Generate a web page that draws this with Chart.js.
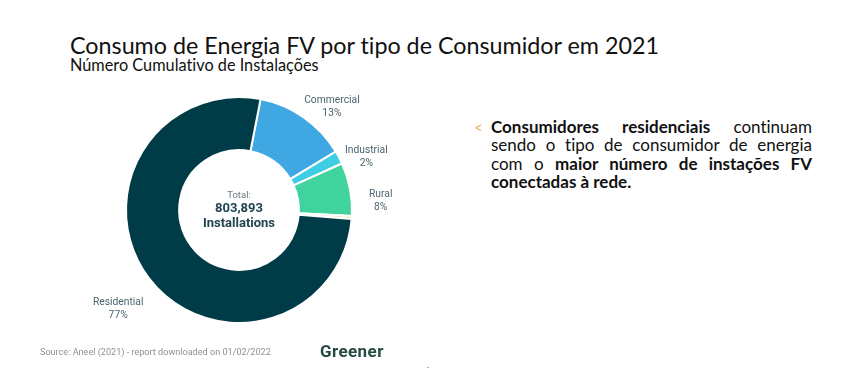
<!DOCTYPE html>
<html>
<head>
<meta charset="utf-8">
<script src="https://cdn.jsdelivr.net/npm/chart.js@4.4.1/dist/chart.umd.min.js"></script>
<style>
  html, body { margin: 0; padding: 0; background: #fff; }
  body { width: 846px; height: 370px; position: relative; overflow: hidden; font-family: Lato, "Open Sans", sans-serif; font-variant-ligatures: none; }
  #title { position: absolute; left: 70px; top: 31px; font-size: 23.3px; color: #111; white-space: nowrap; }
  #subtitle { position: absolute; left: 70px; top: 55px; font-size: 16.3px; color: #111; white-space: nowrap; }
  #chartBox { position: absolute; left: 59px; top: 70px; width: 360px; height: 280px; }
  #note { position: absolute; left: 491px; top: 118px; width: 321px; font-size: 17px; line-height: 18.3px; color: #111; text-align: justify; }
  #note b { font-weight: 700; }
  #bullet { position: absolute; left: 474px; top: 118px; font-size: 15px; color: #E6B35A; }
  #source { position: absolute; left: 40px; top: 347px; font-family: Roboto, sans-serif; font-size: 9.1px; color: #8A9196; white-space: nowrap; }
  #brand { position: absolute; left: 320px; top: 341px; font-family: Roboto, sans-serif; font-weight: 700; font-size: 17px; color: #254A43; letter-spacing: 0.4px; }
  #dot { position: absolute; left: 427px; top: 359px; font-size: 9px; color: #555; }
</style>
</head>
<body>
<div id="title">Consumo de Energia FV por tipo de Consumidor em 2021</div>
<div id="subtitle">Número Cumulativo de Instalações</div>
<div id="chartBox"><canvas id="c"></canvas></div>
<div id="bullet">&lt;</div>
<div id="note"><b>Consumidores residenciais</b> continuam sendo o tipo de consumidor de energia com o <b>maior número de instações FV conectadas à rede.</b></div>
<div id="source">Source: Aneel (2021) - report downloaded on 01/02/2022</div>
<div id="brand">Greener</div>
<div id="dot">.</div>
<script>
// ---- data ----
const categories = ["Commercial", "Industrial", "Rural", "Other", "Residential"];
const sharePct   = [13.3, 1.9, 7.6, 0.4, 76.8];
const showLabel  = [true, true, true, false, true];
const totalLabel = "Total:";
const totalValue = "803,893";
const totalUnit  = "Installations";

const colors = ["#3FA8E2", "#3ECDE3", "#41D39E", "#ECE2A6", "#003C48"];

// label placement nudges (degrees, px radius) per category
const labelNudge = [
  { a: 7, r: 139 },
  { a: 5, r: 138 },
  { a: 7, r: 142 },
  { a: 0, r: 140 },
  { a: -2, r: 156 }
];

const labelPlugin = {
  id: 'outerLabels',
  afterDatasetsDraw(chart) {
    const ctx = chart.ctx;
    const meta = chart.getDatasetMeta(0);
    ctx.save();
    meta.data.forEach((arc, i) => {
      if (!showLabel[i]) return;
      const p = arc.getProps(['x', 'y', 'startAngle', 'endAngle'], true);
      const mid = (p.startAngle + p.endAngle) / 2 + labelNudge[i].a * Math.PI / 180;
      const r = labelNudge[i].r;
      const x = p.x + Math.cos(mid) * r;
      const y = p.y + Math.sin(mid) * r;
      ctx.fillStyle = '#4C6570';
      ctx.font = '10.3px Roboto';
      ctx.textAlign = 'center';
      ctx.textBaseline = 'middle';
      ctx.fillText(categories[i], x, y - 6.5);
      ctx.fillText(Math.round(sharePct[i]) + '%', x, y + 6.5);
    });
    // center text
    const a0 = meta.data[0];
    const cx = a0.x, cy = a0.y;
    ctx.textAlign = 'center';
    ctx.textBaseline = 'middle';
    ctx.fillStyle = '#6B7C84';
    ctx.font = '9.5px Roboto';
    ctx.fillText(totalLabel, cx, cy - 14);
    ctx.fillStyle = '#1F4550';
    ctx.font = 'bold 13px Roboto';
    ctx.fillText(totalValue, cx, cy - 1);
    ctx.fillText(totalUnit, cx, cy + 14);
    ctx.restore();
  }
};

new Chart(document.getElementById('c'), {
  type: 'doughnut',
  data: {
    labels: categories,
    datasets: [{
      data: sharePct,
      backgroundColor: colors,
      borderColor: '#ffffff',
      borderWidth: 2
    }]
  },
  options: {
    responsive: true,
    maintainAspectRatio: false,
    animation: false,
    rotation: 11,
    cutout: '53%',
    layout: { padding: 26 },
    plugins: { legend: { display: false }, tooltip: { enabled: false } }
  },
  plugins: [labelPlugin]
});
</script>
</body>
</html>
